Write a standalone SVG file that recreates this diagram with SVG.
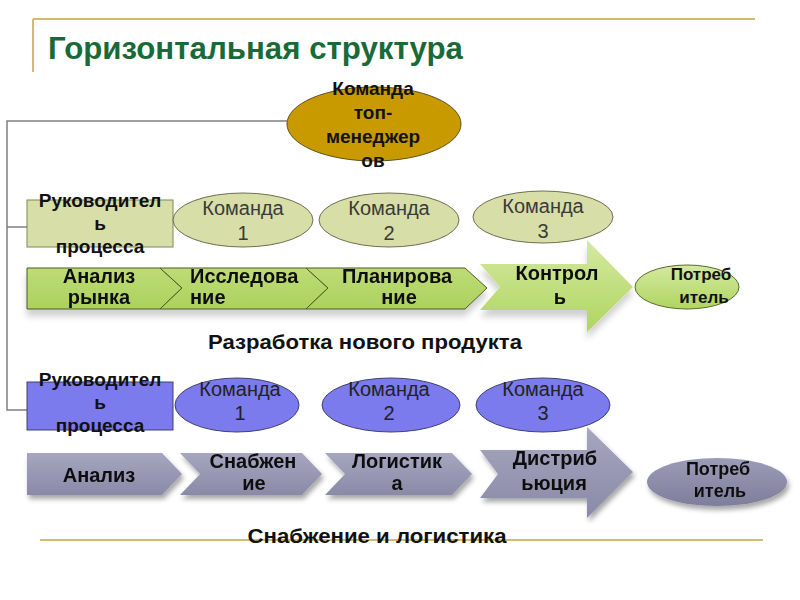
<svg xmlns="http://www.w3.org/2000/svg" width="800" height="600" viewBox="0 0 800 600">
<defs>
<style>
.t{font-family:"Liberation Sans",Arial,sans-serif;font-weight:bold;font-size:20px;fill:#111;text-anchor:middle}
.r{font-family:"Liberation Sans",Arial,sans-serif;font-size:20px;fill:#3a3a3a;text-anchor:middle}
.gl{stroke:#d6b970;stroke-width:2;fill:none}
.cn{stroke:#808080;stroke-width:1.5;fill:none}
.olive{fill:#d7dea7;stroke:#7d8a5a;stroke-width:1}
.blue{fill:#7b7bee;stroke:#40406e;stroke-width:1}
.chev{fill:url(#gG);stroke:#4d5a23;stroke-width:1}
.gray{fill:url(#gV)}
</style>
<linearGradient id="gG" x1="0" y1="0" x2="0" y2="1"><stop offset="0" stop-color="#bedc76"/><stop offset="1" stop-color="#acd15e"/></linearGradient>
<linearGradient id="gL" x1="0" y1="0" x2="0" y2="1"><stop offset="0" stop-color="#d4e9a0"/><stop offset="1" stop-color="#b0d560"/></linearGradient>
<linearGradient id="gV" x1="0" y1="0" x2="0" y2="1"><stop offset="0" stop-color="#a6a6c0"/><stop offset="1" stop-color="#8a8aa8"/></linearGradient>
<linearGradient id="gC" x1="0" y1="0" x2="0" y2="1"><stop offset="0" stop-color="#9c9cb8"/><stop offset="1" stop-color="#7e7e9c"/></linearGradient>
<filter id="sh" x="-10%" y="-20%" width="130%" height="160%"><feDropShadow dx="2" dy="4" stdDeviation="2.5" flood-color="#000" flood-opacity="0.35"/></filter>
<filter id="sh2" x="-10%" y="-20%" width="130%" height="170%"><feDropShadow dx="0" dy="7" stdDeviation="3" flood-color="#000" flood-opacity="0.18"/></filter>
</defs>
<rect width="800" height="600" fill="#fff"/>

<g id="frame">
<path class="gl" d="M33,19 H755 M33,19 V72 M40,540 H763"/>
<text x="48" y="59" textLength="415" lengthAdjust="spacingAndGlyphs" style="font-family:'Liberation Sans',Arial,sans-serif;font-weight:bold;font-size:31px;fill:#1a6a38">Горизонтальная структура</text>
</g>

<g id="connectors">
<path class="cn" d="M287,121 H7 V410 H27 M7,227 H33"/>
</g>

<g id="top-team">
<ellipse cx="374" cy="124" rx="87" ry="37" fill="#c99a00" stroke="#5e5020"/>
<text class="t" x="373" y="95" style="font-size:19px">Команда</text>
<text class="t" x="373" y="119" style="font-size:19px">топ-</text>
<text class="t" x="373" y="143" style="font-size:19px">менеджер</text>
<text class="t" x="373" y="167" style="font-size:19px">ов</text>
</g>

<g id="manager1">
<rect class="olive" x="27" y="200" width="146" height="47"/>
<text class="t" x="100" y="207" style="font-size:19px">Руководител</text>
<text class="t" x="100" y="230" style="font-size:19px">ь</text>
<text class="t" x="100" y="253" style="font-size:19px">процесса</text>
</g>
<g id="team1a"><ellipse class="olive" cx="243" cy="220" rx="70" ry="27" style="stroke:#6e6e50"/><text class="r" x="243" y="215">Команда</text><text class="r" x="243" y="240">1</text></g>
<g id="team2a"><ellipse class="olive" cx="389" cy="220" rx="70" ry="27" style="stroke:#6e6e50"/><text class="r" x="389" y="215">Команда</text><text class="r" x="389" y="240">2</text></g>
<g id="team3a"><ellipse class="olive" cx="543" cy="217" rx="70" ry="26" style="stroke:#6e6e50"/><text class="r" x="543" y="213">Команда</text><text class="r" x="543" y="238">3</text></g>

<g id="row1" filter="url(#sh2)">
<g id="step1a"><polygon class="chev" points="27,268 160,268 182,288 160,309 27,309"/><text class="t" x="99" y="283">Анализ</text><text class="t" x="99" y="304">рынка</text></g>
<g id="step2a"><polygon class="chev" points="160,268 306,268 328,288 306,309 160,309 182,288"/><text class="t" x="190" y="283" style="text-anchor:start">Исследова</text><text class="t" x="190" y="304" style="text-anchor:start">ние</text></g>
<g id="step3a"><polygon class="chev" points="306,268 465,268 487,288 465,309 306,309 328,288"/><text class="t" x="397" y="283">Планирова</text><text class="t" x="399" y="304">ние</text></g>
<g id="step4a"><polygon fill="url(#gL)" points="480,264 587,264 587,240 633,287 587,332 587,310 480,310 500,287"/><text class="t" x="557" y="280">Контрол</text><text class="t" x="560" y="304">ь</text></g>
</g>
<g id="consumer1"><ellipse cx="687" cy="287" rx="52" ry="22" fill="url(#gL)" stroke="#5b6a2c"/><text class="t" x="701" y="280" style="font-size:17px">Потреб</text><text class="t" x="704" y="303" style="font-size:17px">итель</text></g>

<g id="label1"><text class="t" x="365" y="349" textLength="314" lengthAdjust="spacingAndGlyphs" style="font-size:20px">Разработка нового продукта</text></g>

<g id="manager2">
<rect class="blue" x="27" y="382" width="146" height="48"/>
<text class="t" x="100" y="386" style="font-size:19px">Руководител</text>
<text class="t" x="100" y="409" style="font-size:19px">ь</text>
<text class="t" x="100" y="432" style="font-size:19px">процесса</text>
</g>
<g id="team1b"><ellipse class="blue" cx="237" cy="405" rx="62" ry="27"/><text class="r" x="240" y="396" style="fill:#222">Команда</text><text class="r" x="240" y="420" style="fill:#222">1</text></g>
<g id="team2b"><ellipse class="blue" cx="391" cy="405" rx="69" ry="27"/><text class="r" x="389" y="396" style="fill:#222">Команда</text><text class="r" x="389" y="420" style="fill:#222">2</text></g>
<g id="team3b"><ellipse class="blue" cx="543" cy="405" rx="67" ry="27"/><text class="r" x="543" y="396" style="fill:#222">Команда</text><text class="r" x="543" y="420" style="fill:#222">3</text></g>

<g id="row2" filter="url(#sh)">
<g id="step1b"><polygon class="gray" points="27,453 162,453 182,474 162,495 27,495"/><text class="t" x="99" y="482">Анализ</text></g>
<g id="step2b"><polygon class="gray" points="180,453 302,453 322,474 302,495 180,495 200,474"/><text class="t" x="253" y="468">Снабжен</text><text class="t" x="254" y="490">ие</text></g>
<g id="step3b"><polygon class="gray" points="325,453 452,453 472,474 452,495 325,495 345,474"/><text class="t" x="397" y="468">Логистик</text><text class="t" x="397" y="490">а</text></g>
<g id="step4b"><polygon class="gray" points="480,450 587,450 587,427 633,472 587,518 587,498 480,498 498,474"/><text class="t" x="555" y="465">Дистриб</text><text class="t" x="554" y="490">ьюция</text></g>
</g>
<g id="consumer2" filter="url(#sh)"><ellipse cx="717" cy="482" rx="70" ry="24" fill="url(#gC)"/><text class="t" x="718" y="475" style="font-size:18px">Потреб</text><text class="t" x="720" y="497" style="font-size:18px">итель</text></g>

<g id="label2"><text class="t" x="377" y="543" textLength="259" lengthAdjust="spacingAndGlyphs" style="font-size:20px">Снабжение и логистика</text></g>
</svg>
